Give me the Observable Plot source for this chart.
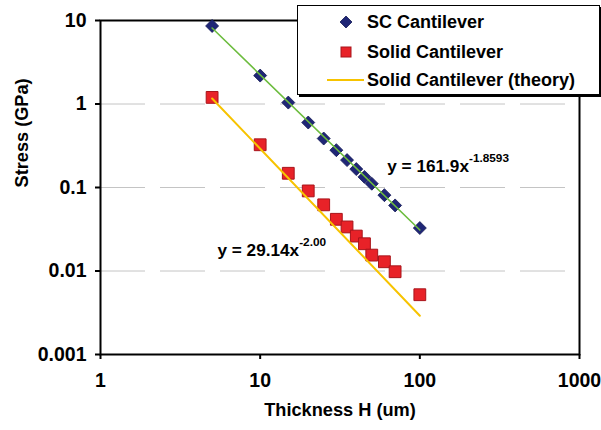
<!DOCTYPE html>
<html>
<head>
<meta charset="utf-8">
<script src="https://cdn.jsdelivr.net/npm/d3@7"></script>
<script src="https://cdn.jsdelivr.net/npm/@observablehq/plot@0.6"></script>
<style>
  html, body { margin: 0; padding: 0; background: #fff; }
  #wrap { position: relative; width: 601px; height: 430px; font-family: "Liberation Sans", Arial, sans-serif; }
  #legend {
    position: absolute; left: 297px; top: 5px; width: 301px; height: 88px;
    background: #fff; border: 1px solid #000; box-shadow: 2px 2px 0 #000;
    font-weight: bold; font-size: 18px; color: #000;
  }
  #legend .row { position: absolute; left: 0; height: 20px; display: flex; align-items: center; }
  #legend svg { display: block; }
</style>
</head>
<body>
<div id="wrap">
  <div id="chart"></div>
  <div id="legend"></div>
</div>
<script>
// Thickness (um) of each measured cantilever
const thickness = [5, 10, 15, 20, 25, 30, 35, 40, 45, 50, 60, 70, 100];
// Measured stress (GPa)
const scStress    = [8.6, 2.19, 1.04, 0.60, 0.386, 0.280, 0.213, 0.166, 0.134, 0.111, 0.081, 0.061, 0.0327];
const solidStress = [1.20, 0.325, 0.148, 0.091, 0.062, 0.0416, 0.0337, 0.0262, 0.0212, 0.0155, 0.0129, 0.0098, 0.0052];

// Power-law fits y = a·x^b
const scFit = { a: 161.9, b: -1.8593, label: "y = 161.9x", sup: "-1.8593" };
const theoryFit = { a: 29.14, b: -2.00, label: "y = 29.14x", sup: "-2.00" };
const fitRange = [5, 100];

// Equation label anchors (data coordinates)
const scLabelPos = { x: 62.5, y: 0.18 };
const theoryLabelPos = { x: 5.4, y: 0.0175 };

// Axis ticks
const xTicks = [1, 10, 100, 1000];
const yTicks = [0.001, 0.01, 0.1, 1, 10];
const gridY = [0.01, 0.1, 1];

const navy = "#1f2676";
const red = "#e82228";
const redEdge = "#a8141a";
const green = "#6cbc3e";
const gold = "#f7c300";

// Rotated-square (Excel-style) diamond and square markers
const diamondSym = {
  draw(ctx, size) {
    const r = Math.sqrt(size / Math.PI);
    ctx.moveTo(0, -r); ctx.lineTo(r, 0); ctx.lineTo(0, r); ctx.lineTo(-r, 0); ctx.closePath();
  }
};
const squareSym = {
  draw(ctx, size) {
    const r = Math.sqrt(size / Math.PI);
    ctx.rect(-r, -r, 2 * r, 2 * r);
  }
};

const scData = thickness.map((t, i) => ({ t, s: scStress[i] }));
const solidData = thickness.map((t, i) => ({ t, s: solidStress[i] }));
const fitLine = f => fitRange.map(t => ({ t, s: f.a * Math.pow(t, f.b) }));
const fmtY = d => String(+d.toPrecision(1));

const chart = Plot.plot({
  width: 601,
  height: 430,
  marginLeft: 100,
  marginRight: 22,
  marginTop: 20,
  marginBottom: 76,
  style: { fontFamily: "Liberation Sans, Arial, sans-serif", fontWeight: "bold", fontSize: "19px", color: "#000", background: "#fff" },
  x: { type: "log", domain: [1, 1000], label: null },
  y: { type: "log", domain: [0.001, 10], label: null },
  marks: [
    Plot.ruleY(gridY, { stroke: "#c4c4c4", strokeWidth: 1, strokeDasharray: "45,15" }),
    Plot.frame({ stroke: "#000", strokeWidth: 2 }),
    Plot.axisX({ ticks: xTicks, tickFormat: d => String(d), tickSize: 5, tickPadding: 14, strokeWidth: 2, fontSize: 19.5, fontWeight: "bold", label: null }),
    Plot.axisY({ ticks: yTicks, tickFormat: fmtY, tickSize: 5, tickPadding: 9, strokeWidth: 2, fontSize: 19.5, fontWeight: "bold", label: null }),
    Plot.dot(scData, { x: "t", y: "s", symbol: diamondSym, r: 6.5, fill: navy, stroke: "#141a55", strokeWidth: 0.8 }),
    Plot.dot(solidData, { x: "t", y: "s", symbol: squareSym, r: 5.9, fill: red, stroke: redEdge, strokeWidth: 1 }),
    Plot.line(fitLine(scFit), { x: "t", y: "s", stroke: green, strokeWidth: 1.6 }),
    Plot.line(fitLine(theoryFit), { x: "t", y: "s", stroke: gold, strokeWidth: 2 }),
    Plot.text([scFit, theoryFit], {
      x: (d, i) => (i === 0 ? scLabelPos : theoryLabelPos).x,
      y: (d, i) => (i === 0 ? scLabelPos : theoryLabelPos).y,
      text: "label", textAnchor: "start", fontSize: 17.2, fontWeight: "bold", fill: "#000",
      className: "eqn"
    }),
    Plot.text(["Thickness H (um)"], { frameAnchor: "bottom", dy: 61, fontSize: 18.2, fontWeight: "bold", fill: "#000" }),
    Plot.text(["Stress (GPa)"], { frameAnchor: "left", dx: -78, rotate: -90, fontSize: 18.2, fontWeight: "bold", fill: "#000" })
  ]
});

// Superscript exponents on the fit equations
const sups = [scFit.sup, theoryFit.sup];
d3.select(chart).selectAll("g.eqn text").each(function (d, i) {
  d3.select(this).append("tspan")
    .attr("dy", -10)
    .attr("font-size", "11.8px")
    .text(sups[i]);
});

document.getElementById("chart").appendChild(chart);

// Legend
const legendItems = [
  { name: "SC Cantilever", kind: "diamond", top: 12 },
  { name: "Solid Cantilever", kind: "square", top: 42 },
  { name: "Solid Cantilever (theory)", kind: "line", top: 70 }
];
const legend = document.getElementById("legend");
for (const item of legendItems) {
  const row = document.createElement("div");
  row.className = "row";
  row.style.top = (item.top - 6) + "px";
  let glyph;
  if (item.kind === "diamond") {
    glyph = `<polygon points="48,4 54,10 48,16 42,10" fill="${navy}" stroke="#141a55" stroke-width="0.8"/>`;
  } else if (item.kind === "square") {
    glyph = `<rect x="43" y="5" width="10" height="10" fill="${red}" stroke="${redEdge}" stroke-width="1"/>`;
  } else {
    glyph = `<line x1="29" x2="66" y1="10" y2="10" stroke="${gold}" stroke-width="2"/>`;
  }
  row.innerHTML = `<svg width="69" height="20">${glyph}</svg><span>${item.name}</span>`;
  legend.appendChild(row);
}
</script>
</body>
</html>
